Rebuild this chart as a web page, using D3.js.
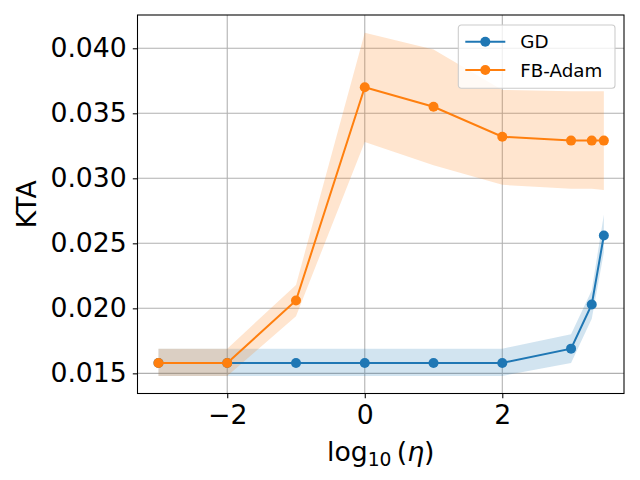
<!DOCTYPE html>
<html>
<head>
<meta charset="utf-8">
<script src="https://cdn.jsdelivr.net/npm/d3@7"></script>
<style>
  body { margin: 0; background: #fff; }
  svg { display: block; font-family: "DejaVu Sans", sans-serif; }
</style>
</head>
<body>
<div id="chart"></div>
<script>
// log10 of learning rate
const logEta = [-3, -2, -1, 0, 1, 2, 3, 3.301, 3.477]

const gdMean  = [0.0158, 0.0158, 0.0158, 0.0158, 0.0158, 0.0158, 0.0169, 0.0203, 0.0256]
const gdLow   = [0.0148, 0.0148, 0.0148, 0.0148, 0.0148, 0.0148, 0.0158, 0.0192, 0.0243]
const gdHigh  = [0.0169, 0.0169, 0.0169, 0.0169, 0.0169, 0.0169, 0.0180, 0.0214, 0.0272]

const adamMean = [0.0158, 0.0158, 0.0206, 0.0370, 0.0355, 0.0332, 0.0329, 0.0329, 0.0329]
const adamLow  = [0.0148, 0.0148, 0.0194, 0.0328, 0.0310, 0.0295, 0.0292, 0.0292, 0.0291]
const adamHigh = [0.0169, 0.0169, 0.0218, 0.0412, 0.0399, 0.0368, 0.0367, 0.0367, 0.0367]

const xTicks = [-2, 0, 2]
const yTicks = [0.015, 0.020, 0.025, 0.030, 0.035, 0.040]

const width = 640
const height = 480
const plotL = 137.5, plotR = 624, plotT = 15, plotB = 393.5

const blue = "#1f77b4"
const orange = "#ff7f0e"

const svg = d3.select("#chart").append("svg")
    .attr("width", width)
    .attr("height", height)

const x = d3.scaleLinear().domain([-3.305, 3.77]).range([plotL, plotR])
const y = d3.scaleLinear().domain([0.01345, 0.04256]).range([plotB, plotT])

// grid
const grid = svg.append("g")
grid.selectAll("line.gx").data(xTicks).enter().append("line")
    .attr("x1", d => x(d)).attr("x2", d => x(d))
    .attr("y1", plotT).attr("y2", plotB)
    .attr("stroke", "#b0b0b0").attr("stroke-width", 1.07)
grid.selectAll("line.gy").data(yTicks).enter().append("line")
    .attr("y1", d => y(d)).attr("y2", d => y(d))
    .attr("x1", plotL).attr("x2", plotR)
    .attr("stroke", "#b0b0b0").attr("stroke-width", 1.07)

const series = [
    {name: "GD", color: blue, mean: gdMean, low: gdLow, high: gdHigh},
    {name: "FB-Adam", color: orange, mean: adamMean, low: adamLow, high: adamHigh}
]

const area = d3.area()
    .x(d => x(d.x))
    .y0(d => y(d.lo))
    .y1(d => y(d.hi))

const line = d3.line()
    .x(d => x(d.x))
    .y(d => y(d.m))

const rows = s => logEta.map((v, i) => ({x: v, m: s.mean[i], lo: s.low[i], hi: s.high[i]}))

// bands under the lines
series.forEach(s => {
    svg.append("path")
        .datum(rows(s))
        .attr("d", area)
        .attr("fill", s.color)
        .attr("fill-opacity", 0.2)
})

series.forEach(s => {
    svg.append("path")
        .datum(rows(s))
        .attr("d", line)
        .attr("fill", "none")
        .attr("stroke", s.color)
        .attr("stroke-width", 2)
    svg.append("g").selectAll("circle")
        .data(rows(s))
        .enter().append("circle")
        .attr("cx", d => x(d.x))
        .attr("cy", d => y(d.m))
        .attr("r", 5)
        .attr("fill", s.color)
})

// axes
const xAxis = svg.append("g")
    .attr("transform", `translate(0,${plotB})`)
    .call(d3.axisBottom(x).tickValues(xTicks).tickSize(4.7).tickPadding(6.6)
        .tickFormat(d => d < 0 ? "\u2212" + Math.abs(d) : d))
const yAxis = svg.append("g")
    .attr("transform", `translate(${plotL},0)`)
    .call(d3.axisLeft(y).tickValues(yTicks).tickSize(4.7).tickPadding(6)
        .tickFormat(d3.format(".3f")))

;[xAxis, yAxis].forEach(a => {
    a.select(".domain").remove()
    a.selectAll("text")
        .style("font-family", "DejaVu Sans")
        .style("font-size", "26.7px")
        .attr("fill", "#000")
    a.selectAll("line").attr("stroke", "#000").attr("stroke-width", 1.07)
})

svg.append("rect")
    .attr("x", plotL).attr("y", plotT)
    .attr("width", plotR - plotL).attr("height", plotB - plotT)
    .attr("fill", "none").attr("stroke", "#000").attr("stroke-width", 1.07)

// labels
svg.append("text")
    .attr("transform", `translate(36,${(plotT + plotB) / 2}) rotate(-90)`)
    .attr("text-anchor", "middle")
    .style("font-size", "26.7px")
    .text("KTA")

const xl = svg.append("text")
    .attr("x", (plotL + plotR) / 2)
    .attr("y", 461)
    .attr("text-anchor", "middle")
    .style("font-size", "26.7px")
xl.append("tspan").text("log")
xl.append("tspan").attr("dy", 5).style("font-size", "18.7px").text("10")
xl.append("tspan").attr("dy", -5).text("\u2009(")
xl.append("tspan").style("font-style", "italic").text("\u03b7")
xl.append("tspan").text(")")

// legend
const legend = svg.append("g").attr("transform", "translate(458.3,25)")
legend.append("rect")
    .attr("width", 156.7).attr("height", 63.3)
    .attr("rx", 3)
    .attr("fill", "#fff").attr("fill-opacity", 0.8)
    .attr("stroke", "#cccccc").attr("stroke-width", 1.07)

const entry = legend.selectAll("g.entry")
    .data(series)
    .enter().append("g")
    .attr("transform", (d, i) => `translate(0,${16.7 + i * 28.3})`)
entry.append("line")
    .attr("x1", 7).attr("x2", 47)
    .attr("stroke", d => d.color).attr("stroke-width", 2)
entry.append("circle")
    .attr("cx", 27).attr("r", 5)
    .attr("fill", d => d.color)
entry.append("text")
    .attr("x", 62).attr("dy", "0.36em")
    .style("font-size", "18.3px")
    .text(d => d.name)
</script>
</body>
</html>
